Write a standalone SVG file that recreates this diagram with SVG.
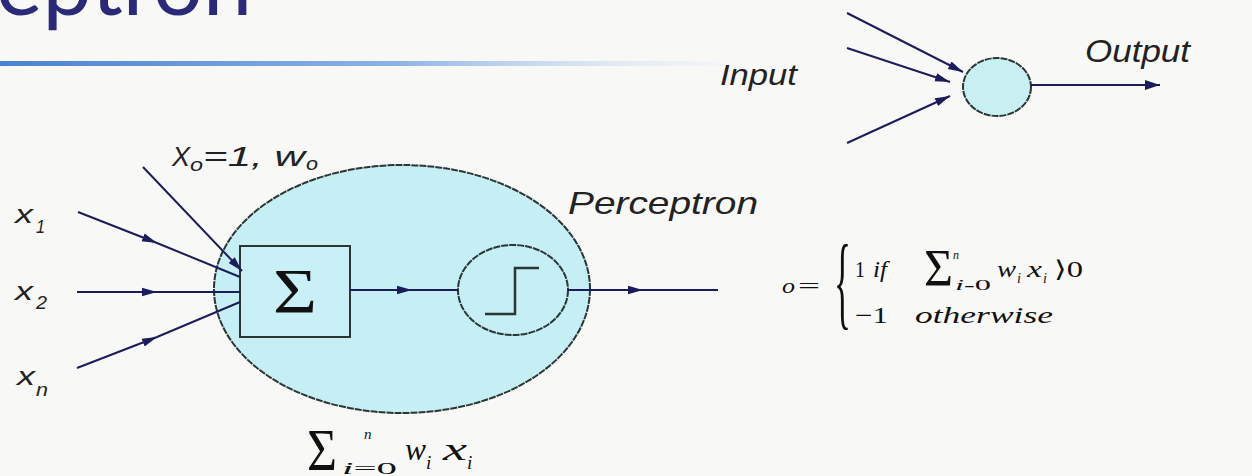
<svg xmlns="http://www.w3.org/2000/svg" width="1252" height="476" viewBox="0 0 1252 476">
<defs>
<linearGradient id="rule" x1="0" y1="0" x2="1" y2="0">
<stop offset="0" stop-color="#4a82d0"/>
<stop offset="0.55" stop-color="#8cb2e6"/>
<stop offset="1" stop-color="#dfe9f7" stop-opacity="0.2"/>
</linearGradient>
<marker id="ah" markerUnits="userSpaceOnUse" markerWidth="16" markerHeight="10" refX="15" refY="5" orient="auto" viewBox="0 0 16 10"><path d="M0,0.8 L15,5 L0,9.2 Z" fill="#1c1c5c"/></marker>
<marker id="ahb" markerUnits="userSpaceOnUse" markerWidth="16" markerHeight="12" refX="15" refY="6" orient="auto" viewBox="0 0 16 12"><path d="M0,1 L15,6 L0,11 Z" fill="#1c1c5c"/></marker>
</defs>
<style>
.lbl{font-family:"Liberation Sans",Arial,sans-serif;font-style:italic;fill:#222;}
.math{font-family:"Liberation Serif","DejaVu Serif",serif;fill:#111;}
.it{font-style:italic;}
.edge{fill:none;stroke:#1c1c5c;stroke-width:2;}
.node{stroke:#2a3535;stroke-width:2;}
.dash{stroke-dasharray:7 1;}
</style>
<rect x="0" y="0" width="1252" height="476" fill="#f8f8f6"/>
<g id="title">
<text x="252" y="15" font-family="Lato,'Open Sans',sans-serif" font-size="88" fill="#2b2a78" text-anchor="end">Perceptron</text>
<rect x="0" y="61" width="720" height="5" fill="url(#rule)"/>
</g>
<g id="simple-neuron">
<ellipse cx="997" cy="87" rx="34" ry="29" fill="#c8f0f3" class="node dash" stroke-width="1.5"/>
</g>
<g id="label-input"><text class="lbl" x="720" y="85" font-size="30" textLength="77" lengthAdjust="spacingAndGlyphs">Input</text></g>
<g id="label-output"><text class="lbl" x="1085" y="62" font-size="31" textLength="105" lengthAdjust="spacingAndGlyphs">Output</text></g>
<g id="perceptron">
<ellipse cx="402" cy="289" rx="188" ry="124" fill="#c6eef5" class="node dash"/>
</g>
<g id="sum">
<rect x="240" y="246" width="110" height="91" fill="#c9f0f6" class="node"/>
<text class="math" x="273" y="313" font-size="64" textLength="44" lengthAdjust="spacingAndGlyphs" fill="#1a2a2a">Σ</text>
</g>
<g id="step">
<ellipse cx="513" cy="290" rx="55" ry="45" fill="#c6eef5" class="node dash"/>
<polyline points="485,314 515,314 515,268 539,268" fill="none" stroke="#2a3535" stroke-width="2.5"/>
</g>
<g id="labels">
<text class="lbl" x="15" y="223" font-size="25" textLength="18" lengthAdjust="spacingAndGlyphs">x</text>
<text class="lbl" x="36" y="233" font-size="18" textLength="9" lengthAdjust="spacingAndGlyphs">1</text>
<text class="lbl" x="15" y="300" font-size="25" textLength="18" lengthAdjust="spacingAndGlyphs">x</text>
<text class="lbl" x="36" y="309" font-size="18" textLength="11" lengthAdjust="spacingAndGlyphs">2</text>
<text class="lbl" x="17" y="385" font-size="25" textLength="18" lengthAdjust="spacingAndGlyphs">x</text>
<text class="lbl" x="36" y="396" font-size="18" textLength="12" lengthAdjust="spacingAndGlyphs">n</text>
<text class="lbl" x="172" y="166" font-size="27" textLength="18" lengthAdjust="spacingAndGlyphs">X</text>
<text class="lbl" x="190" y="171" font-size="19" textLength="13" lengthAdjust="spacingAndGlyphs">o</text>
<text class="lbl" x="203" y="166" font-size="27" textLength="102" lengthAdjust="spacingAndGlyphs">=1, w</text>
<text class="lbl" x="306" y="170" font-size="19" textLength="12" lengthAdjust="spacingAndGlyphs">o</text>
<text class="lbl" x="568" y="214" font-size="32" textLength="190" lengthAdjust="spacingAndGlyphs">Perceptron</text>
</g>
<g id="output-formula">
<text class="math it" x="782" y="293" font-size="22" textLength="13" lengthAdjust="spacingAndGlyphs">o</text>
<text class="math" x="798" y="293" font-size="22" textLength="22" lengthAdjust="spacingAndGlyphs">=</text>
<text class="math" x="0" y="0" font-size="104" transform="translate(834,316) scale(0.34,1)">{</text>
<text class="math" x="855" y="277" font-size="23" textLength="10" lengthAdjust="spacingAndGlyphs">1</text>
<text class="math it" x="873" y="277" font-size="23" textLength="14" lengthAdjust="spacingAndGlyphs">if</text>
<text class="math" x="924" y="286" font-size="52" textLength="29" lengthAdjust="spacingAndGlyphs">Σ</text>
<text class="math it" x="953" y="259" font-size="12">n</text>
<text class="math" x="955" y="290" font-size="14" textLength="36" lengthAdjust="spacingAndGlyphs"><tspan font-style="italic">i</tspan>-0</text>
<text class="math it" x="997" y="277" font-size="23" textLength="19" lengthAdjust="spacingAndGlyphs">w</text>
<text class="math it" x="1017" y="283" font-size="14">i</text>
<text class="math it" x="1027" y="277" font-size="23" textLength="15" lengthAdjust="spacingAndGlyphs">x</text>
<text class="math it" x="1043" y="283" font-size="14">i</text>
<text class="math" x="1054" y="277" font-size="23" textLength="29" lengthAdjust="spacingAndGlyphs">⟩0</text>
<text class="math" x="855" y="323" font-size="23" textLength="33" lengthAdjust="spacingAndGlyphs">−1</text>
<text class="math it" x="915" y="323" font-size="23" textLength="138" lengthAdjust="spacingAndGlyphs">otherwise</text>
</g>
<g id="sum-formula">
<text class="math" x="307" y="470" font-size="60" textLength="30" lengthAdjust="spacingAndGlyphs">Σ</text>
<text class="math it" x="364" y="439" font-size="15">n</text>
<text class="math" x="342" y="474" font-size="16" textLength="55" lengthAdjust="spacingAndGlyphs"><tspan font-style="italic">i</tspan>=0</text>
<text class="math it" x="405" y="460" font-size="31" textLength="21" lengthAdjust="spacingAndGlyphs">w</text>
<text class="math it" x="426" y="469" font-size="19">i</text>
<text class="math it" x="443" y="460" font-size="31" textLength="24" lengthAdjust="spacingAndGlyphs">x</text>
<text class="math it" x="467" y="469" font-size="19">i</text>
</g>
<g id="connectors">
<path class="edge" d="M78,212 L157,243 L240,277" marker-mid="url(#ah)"/>
<path class="edge" d="M77,292 L157,292 L240,292" marker-mid="url(#ah)"/>
<path class="edge" d="M77,368 L157,337 L240,302" marker-mid="url(#ah)"/>
<path class="edge" d="M143,167 L242,271" marker-end="url(#ah)"/>
<path class="edge" d="M350,290 L412,290 L458,290" marker-mid="url(#ah)"/>
<path class="edge" d="M568,290 L643,290 L718,290" marker-mid="url(#ah)"/>
<path class="edge" d="M847,13 L963,72" marker-end="url(#ah)"/>
<path class="edge" d="M847,48 L950,82" marker-end="url(#ah)"/>
<path class="edge" d="M847,143 L950,96" marker-end="url(#ah)"/>
<path class="edge" stroke-width="3.5" d="M1031,85 L1160,85" marker-end="url(#ahb)"/>
</g>
</svg>
